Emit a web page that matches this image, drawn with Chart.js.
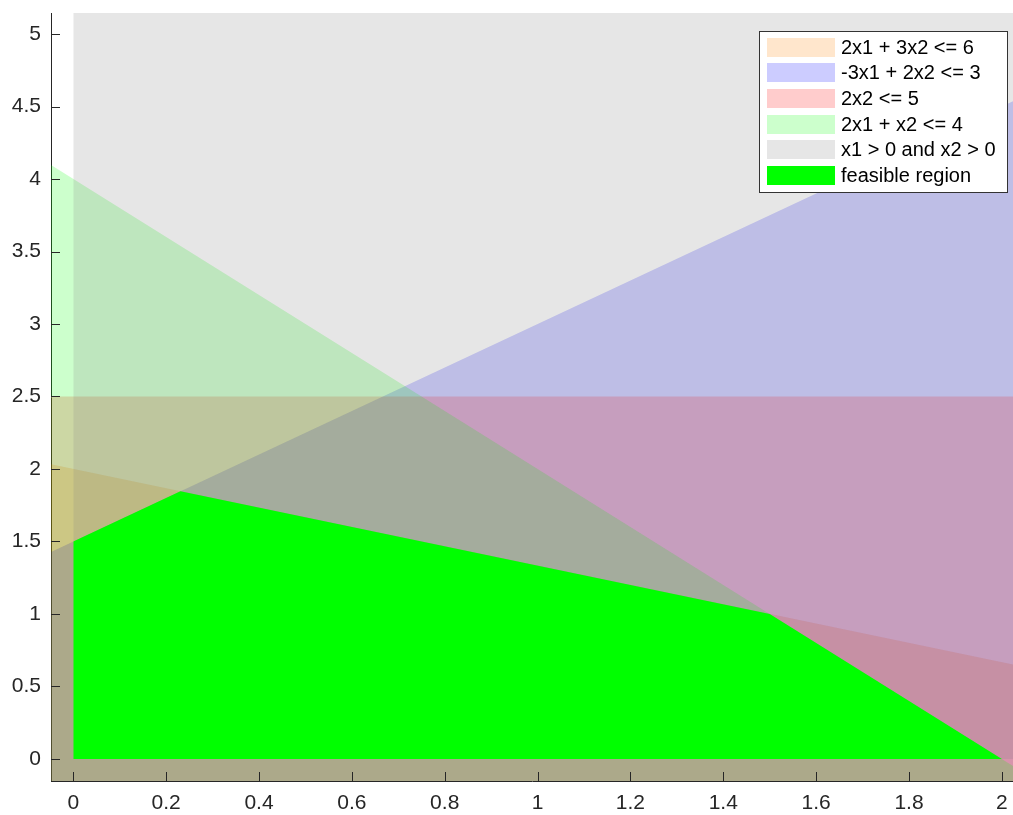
<!DOCTYPE html>
<html>
<head>
<meta charset="utf-8">
<title>Feasible region</title>
<script src="https://cdn.jsdelivr.net/npm/chart.js@4.4.1/dist/chart.umd.min.js"></script>
<style>
  html, body { margin: 0; padding: 0; background: #ffffff; }
  canvas { display: block; }
</style>
</head>
<body>
<canvas id="lp" width="1013" height="815"></canvas>
<script>
// Linear constraints of the form a1*x1 + a2*x2 <= b
const constraintLabels = ['2x1 + 3x2 <= 6', '-3x1 + 2x2 <= 3', '2x2 <= 5', '2x1 + x2 <= 4'];
const coefX1 = [2, -3, 0, 2];
const coefX2 = [3, 2, 2, 1];
const rhs = [6, 3, 5, 4];
const constraintColors = ['rgba(255,128,0,0.2)', 'rgba(0,0,255,0.2)', 'rgba(255,0,0,0.2)', 'rgba(0,255,0,0.2)'];

const quadrantLabel = 'x1 > 0 and x2 > 0';
const quadrantColor = 'rgba(128,128,128,0.2)';

// Corner points of the feasible polygon
const feasibleLabel = 'feasible region';
const vertexX1 = [0, 0, 0.2308, 1.5, 2];
const vertexX2 = [0, 1.5, 1.8462, 1, 0];
const feasibleColor = '#00ff00';

// Axis ticks and limits
const xTickValues = [0, 0.2, 0.4, 0.6, 0.8, 1, 1.2, 1.4, 1.6, 1.8, 2];
const yTickValues = [0, 0.5, 1, 1.5, 2, 2.5, 3, 3.5, 4, 4.5, 5];
const xLimits = [-0.048, 2.024];
const yLimits = [-0.152, 5.145];

const FONT = '"Liberation Sans", Arial, Helvetica, sans-serif';
const AXIS_COLOR = '#262626';

// Each constraint is shaded below its boundary line across the whole x range
const constraintSets = constraintLabels.map((label, i) => ({
  label: label,
  data: xLimits.map(x => ({ x: x, y: (rhs[i] - coefX1[i] * x) / coefX2[i] })),
  fill: 'start',
  backgroundColor: constraintColors[i],
  borderColor: 'rgba(0,0,0,0)',
  borderWidth: 0,
  pointRadius: 0,
  tension: 0,
  order: 10 - i
}));

const quadrantSet = {
  label: quadrantLabel,
  data: [{ x: 0, y: 0 }, { x: xLimits[1], y: 0 }],
  fill: 'end',
  backgroundColor: quadrantColor,
  borderColor: 'rgba(0,0,0,0)',
  borderWidth: 0,
  pointRadius: 0,
  tension: 0,
  order: 5
};

const feasibleSet = {
  label: feasibleLabel,
  data: vertexX1.map((x, i) => ({ x: x, y: vertexX2[i] })),
  fill: { value: 0 },
  backgroundColor: feasibleColor,
  borderColor: 'rgba(0,0,0,0)',
  borderWidth: 0,
  pointRadius: 0,
  tension: 0,
  order: 1
};

// Tick marks pointing into the plot area
const inwardTicks = {
  id: 'inwardTicks',
  afterDraw(chart) {
    const { ctx, chartArea: a, scales } = chart;
    const len = 9;
    ctx.save();
    ctx.strokeStyle = AXIS_COLOR;
    ctx.lineWidth = 1;
    ctx.beginPath();
    xTickValues.forEach(v => {
      const px = Math.round(scales.x.getPixelForValue(v)) + 0.5;
      ctx.moveTo(px, a.bottom);
      ctx.lineTo(px, a.bottom - len);
    });
    yTickValues.forEach(v => {
      const py = Math.round(scales.y.getPixelForValue(v)) + 0.5;
      ctx.moveTo(a.left, py);
      ctx.lineTo(a.left + len, py);
    });
    ctx.stroke();
    ctx.restore();
  }
};

// Boxed legend in the upper right corner of the plot
const boxLegend = {
  id: 'boxLegend',
  afterDraw(chart) {
    const { ctx, chartArea: a } = chart;
    const sets = chart.data.datasets;
    ctx.save();
    ctx.font = '20px ' + FONT;
    const rowH = 25.7, swW = 68, swH = 19, padL = 8, gap = 6, padR = 11, padV = 16;
    const textW = Math.max(...sets.map(d => ctx.measureText(d.label).width));
    const w = Math.round(padL + swW + gap + textW + padR);
    const h = Math.round(padV * 2 + rowH * (sets.length - 1));
    const right = a.right - 6;
    const top = Math.round(a.top + 18);
    const left = Math.round(right - w);
    ctx.fillStyle = '#ffffff';
    ctx.fillRect(left, top, w, h);
    ctx.strokeStyle = '#333333';
    ctx.lineWidth = 1;
    ctx.strokeRect(left + 0.5, top + 0.5, w, h);
    ctx.textAlign = 'left';
    ctx.textBaseline = 'middle';
    sets.forEach((d, i) => {
      const cy = top + padV + i * rowH;
      ctx.fillStyle = d.backgroundColor;
      ctx.fillRect(left + padL, Math.round(cy - swH / 2), swW, swH);
      ctx.fillStyle = '#000000';
      ctx.fillText(d.label, left + padL + swW + gap, cy + 1);
    });
    ctx.restore();
  }
};

const fmt = v => String(Number(v.toFixed(2)));

new Chart(document.getElementById('lp'), {
  type: 'line',
  data: {
    datasets: [...constraintSets, quadrantSet, feasibleSet]
  },
  options: {
    responsive: false,
    animation: false,
    events: [],
    layout: { padding: { top: 13, right: 0, left: 0, bottom: 0 } },
    plugins: {
      legend: { display: false },
      tooltip: { enabled: false },
      filler: { propagate: false }
    },
    scales: {
      x: {
        type: 'linear',
        min: xLimits[0],
        max: xLimits[1],
        z: 1,
        afterBuildTicks: s => { s.ticks = xTickValues.map(v => ({ value: v })); },
        afterFit: s => { s.height = 34; s.paddingLeft = 0; s.paddingRight = 0; },
        grid: { display: false, drawTicks: false },
        border: { display: true, color: AXIS_COLOR, width: 1 },
        ticks: {
          color: AXIS_COLOR,
          font: { family: FONT, size: 21 },
          padding: 10,
          maxRotation: 0,
          autoSkip: false,
          callback: v => fmt(v)
        }
      },
      y: {
        type: 'linear',
        min: yLimits[0],
        max: yLimits[1],
        z: 1,
        afterBuildTicks: s => { s.ticks = yTickValues.map(v => ({ value: v })); },
        afterFit: s => { s.width = 51; s.paddingTop = 0; s.paddingBottom = 0; },
        grid: { display: false, drawTicks: false },
        border: { display: true, color: AXIS_COLOR, width: 1 },
        ticks: {
          color: AXIS_COLOR,
          font: { family: FONT, size: 21 },
          padding: 10,
          autoSkip: false,
          callback: v => fmt(v)
        }
      }
    }
  },
  plugins: [inwardTicks, boxLegend]
});
</script>
</body>
</html>
